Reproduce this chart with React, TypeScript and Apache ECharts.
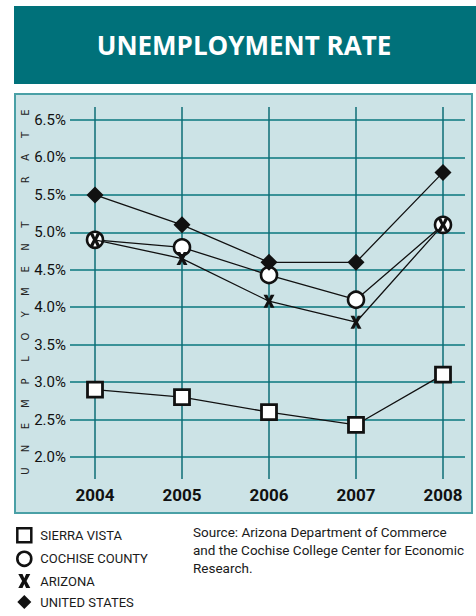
import React, { useEffect, useRef } from "react";
import * as echarts from "echarts";

const years = [2004, 2005, 2006, 2007, 2008];
const sierraVista = [2.9, 2.8, 2.6, 2.43, 3.1];
const cochiseCounty = [4.9, 4.8, 4.43, 4.1, 5.1];
const arizona = [4.9, 4.65, 4.08, 3.8, 5.1];
const unitedStates = [5.5, 5.1, 4.6, 4.6, 5.8];
const seriesNames = ["SIERRA VISTA", "COCHISE COUNTY", "ARIZONA", "UNITED STATES"];
const yTicks = { min: 2.0, max: 6.5, interval: 0.5 };
const titleText = "UNEMPLOYMENT RATE";
const axisTitle = "UNEMPLOYMENT RATE";
const sourceLines = [
  "Source: Arizona Department of Commerce",
  "and the Cochise College Center for Economic",
  "Research.",
];

const NARROW = "Roboto, 'Liberation Sans Narrow', sans-serif";
const X_PATH = "path://M0,0 L4.2,0 L6,4.2 L7.8,0 L12,0 L8.2,7 L12,14 L7.8,14 L6,9.8 L4.2,14 L0,14 L3.8,7 Z";

function pairs(vals: number[]) {
  return years.map((y, i) => [y, vals[i]]);
}

export default function App() {
  const ref = useRef<HTMLDivElement>(null);
  useEffect(() => {
    if (!ref.current) return;
    const chart = echarts.init(ref.current, null, { renderer: "svg" });
    const letters: any[] = [];
    axisTitle.split("").forEach((ch, i) => {
      if (ch === " ") return;
      letters.push({
        type: "text",
        x: 25,
        y: 471 - i * 22.4,
        rotation: Math.PI / 2,
        style: {
          text: ch,
          font: "10px 'DejaVu Sans', sans-serif",
          fill: "#222",
          align: "center",
          verticalAlign: "middle",
        },
        z: 5,
      });
    });
    const lineStyle = { color: "#111", width: 1.3 };
    const option: any = {
      animation: false,
      graphic: [
        { type: "rect", shape: { x: 14, y: 6, width: 462, height: 78 }, style: { fill: "#00717A" }, z: -10 },
        {
          type: "text",
          x: 244,
          y: 45,
          style: {
            text: titleText,
            font: "bold 26px 'Open Sans', sans-serif",
            fill: "#ffffff",
            align: "center",
            verticalAlign: "middle",
          },
        },
        {
          type: "rect",
          shape: { x: 15, y: 94, width: 457, height: 419 },
          style: { fill: "#CCE3E6", stroke: "#4AA0A6", lineWidth: 2 },
          z: -10,
        },
        ...letters,
        {
          type: "text",
          x: 193,
          y: 523,
          style: {
            text: sourceLines.join("\n"),
            font: "13.5px " + NARROW,
            lineHeight: 18,
            fill: "#1a1a1a",
            align: "left",
            verticalAlign: "top",
          },
        },
      ],
      legend: {
        orient: "vertical",
        left: 16,
        top: 527,
        padding: 0,
        itemWidth: 14,
        itemHeight: 14,
        itemGap: 7,
        textStyle: { fontFamily: NARROW, fontSize: 13, color: "#1a1a1a", lineHeight: 14, padding: [0, 0, 0, 4] },
        data: [
          { name: seriesNames[0], icon: "rect", itemStyle: { color: "#fff", borderColor: "#111", borderWidth: 2.5 } },
          { name: seriesNames[1], icon: "circle", itemStyle: { color: "#fff", borderColor: "#111", borderWidth: 2.6 } },
          { name: seriesNames[2], icon: X_PATH, itemStyle: { color: "#111", borderWidth: 0 } },
          { name: seriesNames[3], icon: "diamond", itemStyle: { color: "#111", borderWidth: 0 } },
        ],
      },
      grid: [
        { left: 70, right: 11, top: 120, height: 337 },
        { left: 95, right: 33, top: 107, height: 372 },
      ],
      xAxis: [
        {
          type: "value",
          gridIndex: 0,
          min: 2004 - 25 / 87,
          max: 2008 + 22 / 87,
          show: false,
          splitLine: { show: false },
        },
        {
          type: "value",
          gridIndex: 1,
          min: 2004,
          max: 2008,
          interval: 1,
          axisLine: { show: false },
          axisTick: { show: false },
          splitLine: { show: true, lineStyle: { color: "#0E6E76", width: 1.5 } },
          axisLabel: {
            margin: 7,
            fontFamily: NARROW,
            fontWeight: "bold",
            fontSize: 17,
            color: "#111",
            formatter: (v: number) => String(v),
          },
        },
      ],
      yAxis: [
        {
          type: "value",
          gridIndex: 0,
          min: yTicks.min,
          max: yTicks.max,
          interval: yTicks.interval,
          axisLine: { show: false },
          axisTick: { show: false },
          splitLine: { show: true, lineStyle: { color: "#3A9298", width: 2 } },
          axisLabel: {
            margin: 4,
            fontFamily: NARROW,
            fontSize: 15,
            color: "#111",
            formatter: (v: number) => v.toFixed(1) + "%",
          },
        },
        { type: "value", gridIndex: 1, min: 0, max: 1, show: false, splitLine: { show: false } },
      ],
      series: [
        {
          name: seriesNames[0],
          type: "line",
          xAxisIndex: 0,
          yAxisIndex: 0,
          data: pairs(sierraVista),
          symbol: "rect",
          symbolSize: 15,
          lineStyle,
          itemStyle: { color: "#fff", borderColor: "#111", borderWidth: 2.8 },
          z: 3,
        },
        {
          name: seriesNames[1],
          type: "line",
          xAxisIndex: 0,
          yAxisIndex: 0,
          data: pairs(cochiseCounty),
          symbol: "circle",
          symbolSize: 16,
          lineStyle,
          itemStyle: { color: "#fff", borderColor: "#111", borderWidth: 2.6 },
          z: 3,
        },
        {
          name: seriesNames[2],
          type: "line",
          xAxisIndex: 0,
          yAxisIndex: 0,
          data: pairs(arizona),
          symbol: X_PATH,
          symbolSize: [11, 13],
          lineStyle,
          itemStyle: { color: "#111", borderWidth: 0 },
          z: 4,
        },
        {
          name: seriesNames[3],
          type: "line",
          xAxisIndex: 0,
          yAxisIndex: 0,
          data: pairs(unitedStates),
          symbol: "diamond",
          symbolSize: 17,
          lineStyle,
          itemStyle: { color: "#111", borderWidth: 0 },
          z: 3,
        },
      ],
    };
    chart.setOption(option);
    return () => chart.dispose();
  }, []);
  return (
    <div
      ref={ref}
      style={{ position: "fixed", left: 0, top: 0, width: 476, height: 616, background: "#fff" }}
    />
  );
}
